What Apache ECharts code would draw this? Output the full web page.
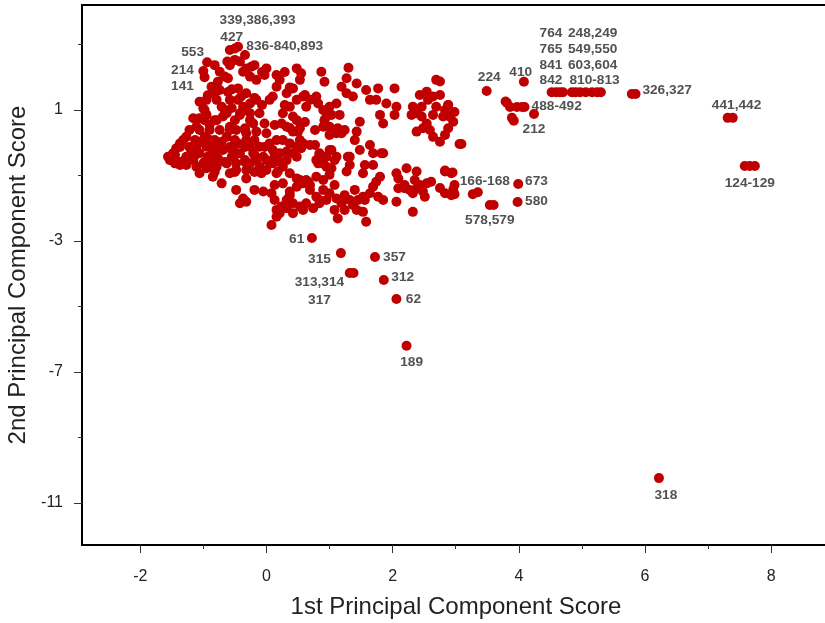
<!DOCTYPE html>
<html>
<head>
<meta charset="utf-8">
<script src="https://cdn.jsdelivr.net/npm/echarts@6/dist/echarts.min.js"></script>
<style>html,body{margin:0;padding:0;background:#fff}#c{width:825px;height:623px}</style>
</head>
<body>
<div id="c"></div>
<script>
// Main cluster scores (PC1, PC2)
const clusterPoints = [
[-0.58,2.83],[-0.50,2.88],[-0.45,2.93],[-0.62,2.48],[-0.94,2.46],[-1.00,2.19],[-0.98,2.00],[-0.42,2.48],
[-0.74,2.17],[-0.66,2.02],[-0.77,1.86],[-0.61,1.97],[-0.32,2.27],[-0.24,2.32],[-0.37,2.17],[-0.26,2.02],
[-0.16,1.92],[0.00,2.27],[-0.03,2.07],[0.16,2.07],[0.21,1.92],[0.48,2.27],[0.55,2.12],[0.87,2.17],
[1.30,2.29],[1.27,1.97],[1.43,1.81],[0.92,1.86],[2.69,1.92],
[-0.87,1.71],[-0.82,1.51],[-0.74,1.61],[-0.95,1.31],[-1.06,1.25],[-1.00,1.05],[-0.79,1.31],[-0.71,1.10],
[-0.58,1.31],[-0.45,1.66],[-0.40,1.41],[-0.32,1.51],[-0.26,1.20],[-0.16,1.31],[-0.37,1.10],[-0.26,0.90],
[-0.11,0.90],[-0.03,0.59],[-0.42,0.90],[-0.63,0.90],[-0.69,0.80],[-0.21,0.59],[0.16,1.71],[0.10,1.41],
[0.32,1.51],[0.42,1.66],[0.48,1.31],[0.58,1.41],[0.63,1.10],[0.37,1.10],[0.26,0.90],[0.42,0.80],
[0.24,0.59],[0.32,0.49],[0.48,0.69],[0.53,0.44],[0.79,1.41],[0.82,1.20],[0.90,1.00],[1.00,1.10],
[1.11,1.20],[1.03,0.85],[0.95,0.80],[1.16,0.85],[1.27,1.51],[1.37,1.41],[1.19,1.71],[1.58,1.61],
[1.77,1.66],[1.64,1.31],[1.74,1.31],[1.90,1.20],[2.03,1.66],[2.06,1.10],[2.03,0.85],[1.80,0.85],
[1.85,0.59],[1.48,0.64],[0.90,0.49],[1.00,0.49],[1.13,0.44],[1.19,0.29],[1.11,0.29],[1.43,0.34],
[2.32,1.10],[2.38,0.90],[2.46,1.10],[2.54,1.56],[2.64,1.41],[2.69,1.10],[2.88,1.15],[2.46,0.80],
[2.54,0.59],[2.38,0.34],[2.48,0.44],[2.64,0.85],[2.80,0.80],[2.90,0.80],[2.96,0.64],[2.88,0.44],
[2.64,0.18],[2.75,0.03],[3.09,-0.04],[-1.16,0.75],[-1.06,0.75],[-0.95,0.85],[-1.11,0.49],[-0.90,0.54],
[-0.79,0.69],[-0.58,0.49],[-0.48,0.39],[-0.32,0.29],[-0.16,0.34],[0.00,0.29],[-0.34,0.44],
[-1.56,-0.43],[-1.53,-0.53],[-1.48,-0.32],[-1.43,-0.17],[-1.37,-0.02],[-1.32,0.08],[-1.27,0.18],[-1.45,-0.63],
[-1.35,-0.58],[-1.27,-0.43],[-1.19,-0.27],[-1.11,-0.12],[-1.03,0.03],[-0.98,0.18],[-0.90,0.08],[-0.95,-0.12],
[-1.06,-0.32],[-1.16,-0.53],[-1.27,-0.68],[-1.37,-0.68],[-1.11,-0.73],[-1.00,-0.63],[-0.93,-0.43],[-0.85,-0.27],
[-0.79,-0.12],[-0.71,0.03],[-0.63,0.18],[-0.69,-0.22],[-0.77,-0.47],[-0.87,-0.63],[-0.95,-0.78],[-0.79,-0.73],
[-0.63,-0.63],[-0.55,-0.43],[-0.53,-0.17],[-0.45,-0.02],[-0.42,-0.32],[-0.32,0.08],[-0.26,-0.12],[-0.21,-0.32],
[-0.34,-0.53],[-0.48,-0.63],[-0.26,-0.63],[-0.16,-0.53],[-0.05,-0.43],[-0.11,-0.12],[0.05,-0.02],[0.16,0.08],
[0.26,0.08],[0.37,-0.02],[0.48,-0.12],[0.58,-0.02],[0.69,-0.07],[0.10,-0.22],[0.21,-0.32],[0.32,-0.27],
[0.42,-0.32],[0.00,-0.53],[0.10,-0.63],[0.21,-0.58],[0.32,-0.53],[-0.11,-0.73],[0.00,-0.83],[0.16,-0.93],
[0.26,-0.73],[0.48,-0.43],[0.55,-0.17],[0.79,-0.53],[0.84,-0.32],[0.95,-0.43],[1.03,-0.22],[1.11,-0.43],
[0.90,-0.63],[1.32,-0.43],[1.69,-0.32],[1.85,-0.32],[-1.06,-0.93],[-0.85,-1.04],[-0.71,-1.24],[-0.58,-0.93],
[-0.48,-0.83],[-0.32,-0.83],[-0.32,-1.09],[-0.08,-0.93],[0.18,-0.88],[-0.58,-0.17],[0.50,0.34],[0.42,0.34],
[-0.48,-1.44],[-0.37,-1.70],[-0.32,-1.80],[-0.42,-1.85],[-0.19,-1.44],[-0.05,-1.49],[0.08,-1.54],[0.13,-1.75],
[0.16,-2.05],[0.24,-1.95],[0.32,-1.75],[0.37,-1.49],[0.48,-1.34],[0.58,-1.24],[0.66,-1.19],[0.26,-1.24],
[0.37,-0.93],[0.48,-1.09],[0.63,-1.14],[0.69,-1.29],[0.79,-1.04],[0.90,-1.14],[1.00,-0.98],[1.03,-0.78],
[1.00,-0.22],[0.82,-0.63],[0.95,-0.73],[0.90,-1.44],[0.79,-1.65],[0.63,-1.85],[0.53,-1.95],[0.42,-1.85],
[0.32,-2.00],[0.21,-2.15],[0.16,-2.26],[0.08,-2.51],[0.42,-2.15],[0.58,-2.05],[0.74,-2.00],[0.84,-1.85],
[0.95,-1.75],[1.00,-1.54],[1.11,-1.70],[1.19,-1.85],[1.08,-2.05],[1.13,-2.31],[1.32,-1.75],[1.37,-1.90],
[1.45,-1.75],[1.53,-1.65],[1.43,-2.05],[1.53,-2.11],[1.58,-2.41],[1.64,-1.54],[1.69,-1.34],[1.74,-1.19],
[1.80,-1.04],[1.77,-1.65],[1.85,-1.75],[1.69,-0.68],[1.82,-0.32],[1.56,-0.68],[1.53,-0.93],[1.29,-0.43],
[1.27,-0.88],[2.06,-0.93],[2.09,-1.09],[2.22,-0.78],[2.38,-0.88],[2.09,-1.39],[2.06,-1.80],[2.19,-1.39],
[2.27,-1.44],[2.38,-1.39],[2.32,-1.54],[2.48,-1.49],[2.43,-1.29],[2.54,-1.24],[2.61,-1.19],[2.32,-2.11],
[2.51,-1.65],[2.83,-0.88],[2.93,-0.93],[2.83,-1.54],[2.96,-1.44],[2.93,-1.60],[2.75,1.87],[2.88,1.15],
[3.06,-0.04],[2.83,-0.85],[2.95,-0.91],[2.98,-1.57],
[-1.22,0.39],[-1.06,0.39],[-0.90,0.39],[-0.74,0.39],[-0.58,0.39],[-0.34,0.39],
[-1.13,0.08],[-0.82,0.08],[-0.50,0.08],[-0.19,0.08],
[-1.37,-0.13],[-1.22,-0.13],[-0.90,-0.13],[-0.58,-0.13],[-0.34,-0.13],[-0.03,-0.13],
[-1.45,-0.37],[-1.13,-0.37],[-0.82,-0.37],[-0.50,-0.37],[-0.19,-0.37],[0.13,-0.37],
[-1.29,-0.59],[-0.98,-0.59],[-0.66,-0.59],[-0.34,-0.59],[0.05,-0.59],
[-0.82,-0.89],[-0.50,-0.89],[-0.19,-0.89],
[-0.98,0.69],[-0.82,0.69],[-0.50,0.69],[-0.98,1.00],[-0.66,1.00],[-0.34,1.00],
[-0.93,1.45],[-0.61,1.55],[-0.82,2.37],[-0.58,2.37],
[-0.50,2.53],[-0.34,2.68],[-0.19,2.37],[-0.07,2.16],[-0.55,1.63],[-0.45,1.31],[-0.19,1.37],[-0.07,1.15],
[0.05,1.31],[0.29,2.16],[0.37,1.69],[0.53,1.92],[0.61,1.46],[0.69,1.31],[0.29,1.15],[-0.42,0.85],
[-0.26,0.69],[-0.55,1.06],
[0.13,0.54],[0.37,0.45],[0.61,0.63],[0.77,0.39],[0.92,0.69],[0.53,0.08],[0.77,-0.07],[1.00,0.24],
[1.24,0.39],[1.40,0.08],[0.84,-0.37],[1.08,-0.53],[1.32,-0.68],[1.48,-0.22],[1.64,-0.07],
[0.53,-1.14],[0.69,-1.44],[0.84,-1.75],[1.08,-1.29],[1.24,-1.60],[1.40,-1.44],[1.56,-1.75],[1.24,-2.05],
[0.37,-1.60],[0.13,-1.29],
[2.43,1.46],[2.56,1.31],[2.75,1.46],[2.83,1.00],[2.98,0.94],[2.59,0.39],[2.83,0.24],[2.30,0.85],
[2.19,-1.29],[2.35,-1.14],[2.75,-1.38],[2.98,-1.29]
];
// Outlying labelled observations
const outlierPoints = [
[3.49,1.58],[4.08,1.86],[3.79,1.26],[3.81,1.22],[3.86,1.09],[3.97,1.09],[4.05,1.09],[4.09,1.09],
[4.24,0.88],[3.89,0.76],[3.92,0.67],
[4.52,1.54],[4.59,1.54],[4.65,1.54],[4.70,1.54],[4.84,1.54],[4.90,1.54],[4.97,1.54],[5.06,1.54],
[5.16,1.54],[5.24,1.54],[5.30,1.54],[5.79,1.49],[5.85,1.49],
[7.31,0.76],[7.39,0.76],[7.58,-0.71],[7.66,-0.71],[7.74,-0.71],
[3.27,-1.57],[3.35,-1.51],[3.54,-1.90],[3.60,-1.90],[3.99,-1.26],[3.98,-1.81],
[0.72,-2.91],[1.18,-3.37],[1.72,-3.49],[1.32,-3.98],[1.38,-3.98],[1.86,-4.19],[2.06,-4.77],[2.22,-6.20],
[6.22,-10.24]
];
// Observation labels and their anchor positions (data units)
const labelText = ["339,386,393","427","836-840,893","553","214","141","224","410",
  "764","765","841","842","248,249","549,550","603,604","810-813","326,327","488-492","212",
  "441,442","124-129","166-168","673","580","578,579","61","315","357","313,314","317","312","62","189","318"];
const labelX = [-0.14,-0.55,0.29,-1.17,-1.33,-1.33,3.53,4.03,
  4.51,4.51,4.51,4.51,5.17,5.17,5.17,5.20,6.35,4.60,4.24,
  7.45,7.66,3.46,4.28,4.28,3.54,0.48,0.84,2.03,0.84,0.84,2.16,2.33,2.30,6.33];
const labelY = [3.75,3.23,2.95,2.77,2.22,1.73,2.01,2.16,
  3.35,2.86,2.37,1.92,3.35,2.86,2.37,1.92,1.59,1.13,0.41,
  1.14,-1.24,-1.16,-1.19,-1.80,-2.36,-2.95,-3.56,-3.50,-4.26,-4.80,-4.12,-4.78,-6.70,-10.76];
const xMajorTicks = [-2,0,2,4,6,8];
const xMinorTicks = [-1,1,3,5,7];
const yMajorTicks = [1,-3,-7,-11];
const yMinorTicks = [3,-1,-5,-9];

const X_MIN = -2.923, X_MAX = 8.931, Y_MIN = -12.283, Y_MAX = 4.206;
const FONT = '"Liberation Sans", Arial, Helvetica, sans-serif';
const labelData = labelText.map((t, i) => ({ value: [labelX[i], labelY[i]], name: t }));

const chart = echarts.init(document.getElementById('c'), null, { renderer: 'canvas' });
chart.setOption({
  animation: false,
  backgroundColor: '#fff',
  grid: { left: 82, top: 5, right: -5, bottom: 78, containLabel: false, outerBoundsMode: 'none',
    show: true, borderColor: '#000', borderWidth: 2, backgroundColor: 'transparent' },
  xAxis: [
    { type: 'value', min: X_MIN, max: X_MAX, position: 'bottom',
      name: '1st Principal Component Score', nameLocation: 'middle', nameGap: 50,
      nameTextStyle: { fontFamily: FONT, fontSize: 24, color: '#222' },
      axisLine: { show: true, onZero: false, lineStyle: { color: '#000', width: 2 } },
      axisTick: { show: true, length: 8, customValues: xMajorTicks, lineStyle: { color: '#333', width: 1 } },
      axisLabel: { show: true, customValues: xMajorTicks, margin: 24, fontFamily: FONT, fontSize: 16, color: '#222' },
      splitLine: { show: false } },
    { type: 'value', min: X_MIN, max: X_MAX, position: 'bottom',
      axisLine: { show: false, onZero: false },
      axisTick: { show: true, length: 4, customValues: xMinorTicks, lineStyle: { color: '#333', width: 1 } },
      axisLabel: { show: false }, splitLine: { show: false } }
  ],
  yAxis: [
    { type: 'value', min: Y_MIN, max: Y_MAX, position: 'left',
      name: '2nd Principal Component Score', nameLocation: 'middle', nameGap: 48,
      nameTextStyle: { fontFamily: FONT, fontSize: 24, color: '#222' },
      axisLine: { show: true, onZero: false, lineStyle: { color: '#000', width: 2 } },
      axisTick: { show: true, length: 8, customValues: yMajorTicks, lineStyle: { color: '#333', width: 1 } },
      axisLabel: { show: true, customValues: yMajorTicks, margin: 19, fontFamily: FONT, fontSize: 16, color: '#222' },
      splitLine: { show: false } },
    { type: 'value', min: Y_MIN, max: Y_MAX, position: 'left',
      axisLine: { show: false, onZero: false },
      axisTick: { show: true, length: 4, customValues: yMinorTicks, lineStyle: { color: '#333', width: 1 } },
      axisLabel: { show: false }, splitLine: { show: false } }
  ],
  series: [
    { type: 'scatter', data: clusterPoints, symbol: 'circle', symbolSize: 10,
      itemStyle: { color: '#C00000', opacity: 1 }, emphasis: { disabled: true } },
    { type: 'scatter', data: outlierPoints, symbol: 'circle', symbolSize: 10,
      itemStyle: { color: '#C00000', opacity: 1 }, emphasis: { disabled: true } },
    { type: 'scatter', data: labelData, symbolSize: 0, z: 5,
      label: { show: true, position: 'inside', formatter: p => p.name,
        fontFamily: FONT, fontWeight: 'bold', fontSize: 13.7, color: '#262626' },
      emphasis: { disabled: true } }
  ]
});
</script>
</body>
</html>
